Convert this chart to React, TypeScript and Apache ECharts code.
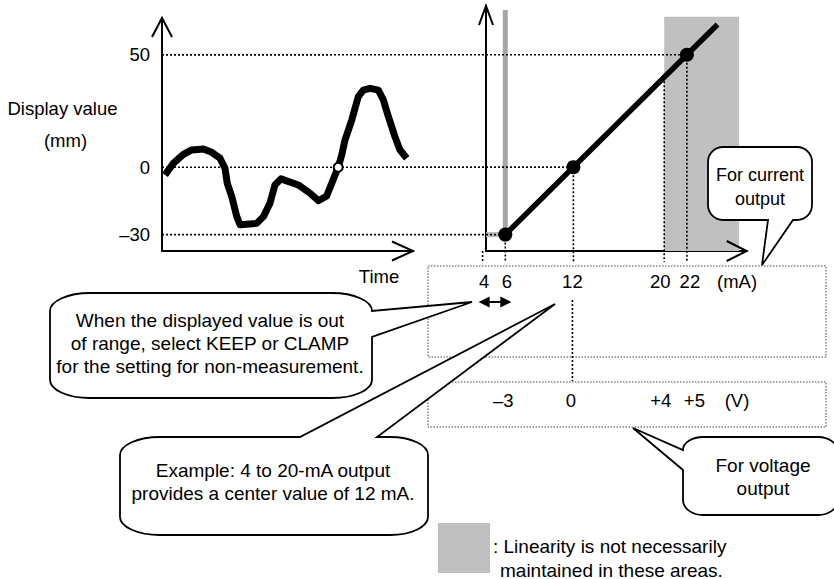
import React, { useEffect, useRef } from "react";
import * as echarts from "echarts";

// ---------- data ----------
// left plot: display value (mm) over time (arbitrary time units 0..100)
const timePoints = [1.2, 4.5, 8.5, 11.8, 16.5, 19.8, 23.1, 25.1, 26.0, 27.8, 29.8, 31.1, 37.7, 40.4, 43.0, 45.0, 47.4, 54.3, 59.0, 62.3, 65.6, 67.6, 70.2, 71.6, 72.9, 75.6, 78.2, 80.2, 82.9, 86.2, 88.2, 90.2, 92.8, 94.8, 97.5];
const displayTrace = [-3.5, 1.7, 5.7, 7.7, 8.1, 6.6, 4.0, -0.5, -7.2, -13.1, -22.0, -25.6, -25.0, -22.0, -16.1, -7.9, -5.2, -7.9, -11.6, -14.9, -12.8, -7.2, 0, 5.4, 12.1, 21.0, 31.4, 34.3, 35.1, 34.3, 29.9, 22.5, 13.6, 7.7, 4.0];
const crossingPoint = [70.2, 0];

const leftTicks = [50, 0, -30];
const leftTickLabels = ["50", "0", "–30"];

// right plot: display value vs output current (mA)
const lineMA = [6, 12, 22, 24.7];
const lineDisplay = [-30, 0, 50, 63.5];
const dotMA = [6, 12, 22];
const dotDisplay = [-30, 0, 50];

const guideLevels = [50, 0, -30];
const guideLevelEndMA = [22, 12, 6];

const mATicks = [4, 6, 12, 20, 22];
const mATickLabels = ["4", "6", "12", "20", "22"];
const mATickTop = [-37.3, -30, 0, 40, 50];

const voltLabels = ["–3", "0", "+4", "+5"];
const voltAtMA = [6, 12, 20, 22];

// shaded regions (mA from, mA to, display from, display to)
const shadeFrom = [20, 5.78, 4.3];
const shadeTo = [26.6, 6.22, 6];
const shadeBottom = [-37.3, -30, -31.1];
const shadeTop = [66.9, 69.9, -28.9];
const shadeColors = ["#c0c0c0", "#a6a6a6", "#b8b8b8"];

const Y_MIN = -37.3;
const FONT = '"Liberation Sans", Arial, Helvetica, sans-serif';

const BUBBLES = [
  { name: "bubbleKeep", d: "M90 293 L332 293 A40 18 0 0 1 372 311 L472 302 L372 337 L372 380 A40 18 0 0 1 332 398 L90 398 A40 18 0 0 1 50 380 L50 311 A40 18 0 0 1 90 293 Z" },
  { name: "bubbleExample", d: "M160 437 L300 437 L555 304 L377 437 L390 437 A38 18 0 0 1 428 455 L428 517 A38 18 0 0 1 390 535 L160 535 A40 18 0 0 1 120 517 L120 455 A40 18 0 0 1 160 437 Z" },
  { name: "bubbleCurrent", d: "M723 147 L797 147 A15 15 0 0 1 812 162 L812 205 A15 15 0 0 1 797 220 L793 220 L762 265 L768 220 L723 220 A15 15 0 0 1 708 205 L708 162 A15 15 0 0 1 723 147 Z" },
  { name: "bubbleVoltage", d: "M703 437 L818 437 A20 15 0 0 1 838 452 L838 500 A20 15 0 0 1 818 515 L703 515 A20 15 0 0 1 683 500 L683 470 L633 428 L683 450 A20 13 0 0 1 703 437 Z" },
];

function txt(x: number, y: number, text: string, size: number, align = "center", lineHeight = 23) {
  return {
    type: "text",
    x,
    y,
    z: 40,
    silent: true,
    style: {
      text,
      fill: "#000",
      font: `${size}px ${FONT}`,
      align,
      verticalAlign: "middle",
      textAlign: align,
      textVerticalAlign: "middle",
      lineHeight,
    },
  };
}

export default function App() {
  const ref = useRef<HTMLDivElement>(null);

  useEffect(() => {
    const el = ref.current!;
    BUBBLES.forEach((b) =>
      echarts.graphic.registerShape(b.name, echarts.graphic.extendPath(b.d, {}) as any)
    );
    const chart = echarts.init(el, null, { renderer: "svg" });
    const axisLine = { show: true, onZero: false, lineStyle: { color: "#000", width: 2 } };

    chart.setOption({
      animation: false,
      backgroundColor: "#fff",
      grid: [
        { left: 162, top: 18, width: 251, height: 233, outerBoundsMode: "none" },
        { left: 486, top: 6, width: 260.7, height: 245, outerBoundsMode: "none" },
      ],
      xAxis: [
        {
          gridIndex: 0, type: "value", min: 0, max: 100, axisLine,
          axisTick: { show: false }, axisLabel: { show: false }, splitLine: { show: false },
        },
        {
          gridIndex: 1, type: "value", min: 4.3, max: 27.27, axisLine,
          axisTick: { show: false }, splitLine: { show: false }, axisLabel: { show: false },
        },
      ],
      yAxis: [
        {
          gridIndex: 0, type: "value", min: Y_MIN, max: 66.4, axisLine,
          axisTick: { show: false }, splitLine: { show: false },
          axisLabel: {
            customValues: leftTicks, margin: 12, color: "#000", fontSize: 18.5, fontFamily: FONT,
            formatter: (v: number) => {
              const i = leftTicks.indexOf(v);
              return i >= 0 ? leftTickLabels[i] : "";
            },
          },
        },
        {
          gridIndex: 1, type: "value", min: Y_MIN, max: 71.7, axisLine,
          axisTick: { show: false }, axisLabel: { show: false }, splitLine: { show: false },
        },
      ],
      series: [
        {
          type: "line", xAxisIndex: 1, yAxisIndex: 1, data: [], z: 1, silent: true,
          markArea: {
            silent: true,
            data: shadeFrom.map((f, i) => [
              { coord: [f, shadeBottom[i]], itemStyle: { color: shadeColors[i], opacity: 1, borderWidth: 0 } },
              { coord: [shadeTo[i], shadeTop[i]] },
            ]),
          },
        },
        {
          type: "line", xAxisIndex: 0, yAxisIndex: 0, silent: true, z: 10,
          data: timePoints.map((t, i) => [t, displayTrace[i]]),
          showSymbol: false, symbol: "none",
          lineStyle: { color: "#000", width: 7, join: "round", cap: "butt" },
        },
        {
          type: "scatter", xAxisIndex: 0, yAxisIndex: 0, silent: true, z: 12,
          data: [crossingPoint], symbolSize: 9,
          itemStyle: { color: "#fff", borderColor: "#000", borderWidth: 2, opacity: 1 },
        },
        {
          type: "line", xAxisIndex: 1, yAxisIndex: 1, silent: true, z: 10,
          data: lineMA.map((m, i) => [m, lineDisplay[i]]),
          showSymbol: false, symbol: "none",
          lineStyle: { color: "#000", width: 5.5, cap: "butt" },
        },
        {
          type: "scatter", xAxisIndex: 1, yAxisIndex: 1, silent: true, z: 12,
          data: dotMA.map((m, i) => [m, dotDisplay[i]]), symbolSize: 14,
          itemStyle: { color: "#000", opacity: 1 },
        },
      ],
    });

    const P0 = (x: number, y: number) => chart.convertToPixel({ gridIndex: 0 }, [x, y]) as number[];
    const P1 = (x: number, y: number) => chart.convertToPixel({ gridIndex: 1 }, [x, y]) as number[];

    const dotted = { stroke: "#000", lineWidth: 1.6, lineDash: [2, 2] };
    const graphics: any[] = [];

    // axis arrowheads
    const lt = P0(0, 66.4);
    const lr = P0(100, Y_MIN);
    const rt = P1(4.3, 71.7);
    const rr = P1(27.27, Y_MIN);
    const chevron = (pts: number[][]) => ({
      type: "polyline", z: 15, silent: true, shape: { points: pts },
      style: { stroke: "#000", lineWidth: 2, fill: "none" },
    });
    graphics.push(chevron([[lt[0] - 10, lt[1] + 19], [lt[0], lt[1]], [lt[0] + 10, lt[1] + 19]]));
    graphics.push(chevron([[lr[0] - 21, lr[1] - 9.5], [lr[0], lr[1]], [lr[0] - 21, lr[1] + 9.5]]));
    graphics.push(chevron([[rt[0] - 7, rt[1] + 19], [rt[0], rt[1]], [rt[0] + 7, rt[1] + 19]]));
    graphics.push(chevron([[rr[0] - 20, rr[1] - 10], [rr[0], rr[1]], [rr[0] - 20, rr[1] + 10]]));

    // horizontal guides
    guideLevels.forEach((lv, i) => {
      const a = P0(0, lv);
      const b = P1(guideLevelEndMA[i], lv);
      graphics.push({ type: "line", z: 5, silent: true, shape: { x1: a[0], y1: a[1], x2: b[0], y2: b[1] }, style: dotted });
    });

    // vertical guides
    const axisY = P1(4.3, Y_MIN)[1];
    mATicks.forEach((m, i) => {
      const a = P1(m, mATickTop[i]);
      graphics.push({ type: "line", z: 5, silent: true, shape: { x1: a[0], y1: a[1], x2: a[0], y2: axisY + 11 }, style: dotted });
    });
    const x12 = P1(12, 0)[0];
    graphics.push({ type: "line", z: 5, silent: true, shape: { x1: x12 - 1, y1: 300, x2: x12 - 1, y2: 381 }, style: dotted });

    // dotted boxes
    const boxStyle = { stroke: "#444", lineWidth: 1, lineDash: [1.5, 1.5], fill: "none" };
    graphics.push({ type: "rect", z: 4, silent: true, shape: { x: 428, y: 266, width: 398, height: 91 }, style: boxStyle });
    graphics.push({ type: "rect", z: 4, silent: true, shape: { x: 428, y: 382, width: 398, height: 45 }, style: boxStyle });

    // axis texts
    graphics.push(txt(62.5, 108.5, "Display value", 18.5));
    graphics.push(txt(65.5, 140.5, "(mm)", 18.5));
    graphics.push(txt(379, 276.5, "Time", 18.5));

    // mA tick labels and volt labels (small nudges keep neighbouring labels apart, as in the figure)
    const mANudge = [1.5, 1.5, -1, -4, 3];
    mATicks.forEach((m, i) => {
      const x = P1(m, 0)[0];
      graphics.push(txt(x + mANudge[i], 281, mATickLabels[i], 18.5));
    });
    graphics.push(txt(737, 281, "(mA)", 18.5));
    const vNudge = [-2, -2.5, -3.5, 7.5];
    voltLabels.forEach((v, i) => {
      const x = P1(voltAtMA[i], 0)[0];
      graphics.push(txt(x + vNudge[i], 400, v, 18.5));
    });
    graphics.push(txt(737, 400, "(V)", 18.5));

    // double arrow between 4 and 6 mA
    const x4 = P1(4, 0)[0] - 4;
    const x6 = P1(6, 0)[0] + 6;
    const ay = 302;
    graphics.push({ type: "line", z: 15, silent: true, shape: { x1: x4 + 5, y1: ay, x2: x6 - 5, y2: ay }, style: { stroke: "#000", lineWidth: 2 } });
    graphics.push({ type: "polygon", z: 15, silent: true, shape: { points: [[x4, ay], [x4 + 11, ay - 5.5], [x4 + 11, ay + 5.5]] }, style: { fill: "#000" } });
    graphics.push({ type: "polygon", z: 15, silent: true, shape: { points: [[x6, ay], [x6 - 11, ay - 5.5], [x6 - 11, ay + 5.5]] }, style: { fill: "#000" } });

    // callout bubbles
    BUBBLES.forEach((b) => {
      graphics.push({ type: b.name, z: 30, silent: true, style: { fill: "#fff", stroke: "#000", lineWidth: 1.8 } });
    });
    graphics.push(txt(210, 343, "When the displayed value is out\nof range, select KEEP or CLAMP\nfor the setting for non-measurement.", 19));
    graphics.push(txt(273, 481.5, "Example: 4 to 20-mA output\nprovides a center value of 12 mA.", 19));
    graphics.push(txt(760, 186.5, "For current\noutput", 18, "center", 24));
    graphics.push(txt(763, 476.7, "For voltage\noutput", 19));

    // legend
    graphics.push({ type: "rect", z: 4, silent: true, shape: { x: 438, y: 523, width: 52, height: 50 }, style: { fill: "#c0c0c0" } });
    graphics.push(txt(493, 546.7, ": Linearity is not necessarily", 19, "left"));
    graphics.push(txt(500, 570, "maintained in these areas.", 19, "left"));

    chart.setOption({ graphic: graphics });

    return () => chart.dispose();
  }, []);

  return (
    <div
      ref={ref}
      style={{ position: "fixed", left: 0, top: 0, width: 834, height: 579, background: "#fff" }}
    />
  );
}
